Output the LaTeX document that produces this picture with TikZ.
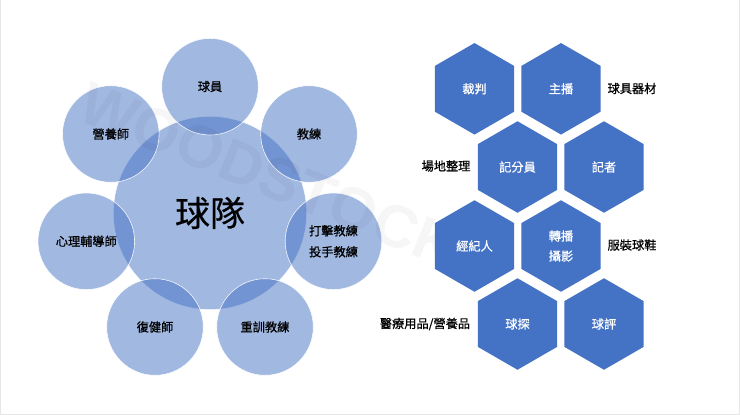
\documentclass[tikz,border=0pt]{standalone}
\usepackage{fontspec}
\usetikzlibrary{shapes.geometric}
\newfontfamily\cjk[FakeBold=0.8]{Noto Sans CJK TC}
\newfontfamily\cjkplain[FakeBold=0.4]{Noto Sans CJK TC}
\newfontfamily\wmfont{Liberation Sans Bold}
\definecolor{hexblue}{HTML}{4472C4}
\definecolor{edgegray}{HTML}{E6E6E6}
\tikzset{
  disc/.style={circle,fill=hexblue,fill opacity=.5,text opacity=1,draw=white,draw opacity=.9,line width=.6pt,minimum size=96.6pt,inner sep=0pt,align=center,font=\cjk\fontsize{12.2}{21}\selectfont,text=black},
  hub/.style={disc,minimum size=193.4pt,font=\cjkplain\fontsize{35}{40}\selectfont},
  hexa/.style={regular polygon,regular polygon sides=6,shape border rotate=30,minimum size=91.5pt,inner sep=0pt,fill=hexblue,text=white,align=center,font=\cjk\fontsize{12.2}{20}\selectfont},
  note/.style={font=\cjk\fontsize{12.2}{14}\selectfont,text=black,inner sep=0pt},
  mark text/.style={text=black,text opacity=.035,font=\wmfont\fontsize{60}{60}\selectfont,rotate=-22,inner sep=0pt,anchor=west}
}
\begin{document}
\begin{tikzpicture}[x=1pt,y=-1pt]
\useasboundingbox (0,0) rectangle (740,415);
\fill[white] (0,0) rectangle (740,415);
\draw[edgegray,line width=1.4pt] (0.7,0) -- (0.7,414.3) -- (739.3,414.3) -- (739.3,0);
\node[hub] (team) at (210,213) {\raisebox{3pt}{球隊}};
\node[disc] (player) at (210,86.7) {\raisebox{1.5pt}{球員}};
\node[disc] (coach) at (309,134) {\raisebox{1pt}{教練}};
\node[disc] (batting) at (333.5,241.3) {打擊教練\\投手教練};
\node[disc] (strength) at (265,327) {\raisebox{1pt}{重訓教練}};
\node[disc] (rehab) at (155,327) {\raisebox{1pt}{復健師}};
\node[disc] (mental) at (86.3,241.3) {\raisebox{1pt}{心理輔導師}};
\node[disc] (diet) at (110.8,134) {\raisebox{1pt}{營養師}};
\node[mark text] (mark) at (83,100) {WOODSTOCK};
\node[hexa] (referee) at (474.5,88.8) {裁判};
\node[hexa] (anchor) at (561,88.8) {主播};
\node[hexa] (scorer) at (517.5,167) {記分員};
\node[hexa] (reporter) at (604,167) {記者};
\node[hexa] (agent) at (474.5,246) {經紀人};
\node[hexa] (broadcast) at (561,246) {轉播\\攝影};
\node[hexa] (scout) at (517.5,324) {球探};
\node[hexa] (critic) at (604,324) {球評};
\node[note] (gear) at (632,88.5) {球具器材};
\node[note] (field) at (446,166) {場地整理};
\node[note] (apparel) at (632,245) {服裝球鞋};
\node[note] (medical) at (425,324) {醫療用品/營養品};
\end{tikzpicture}
\end{document}
